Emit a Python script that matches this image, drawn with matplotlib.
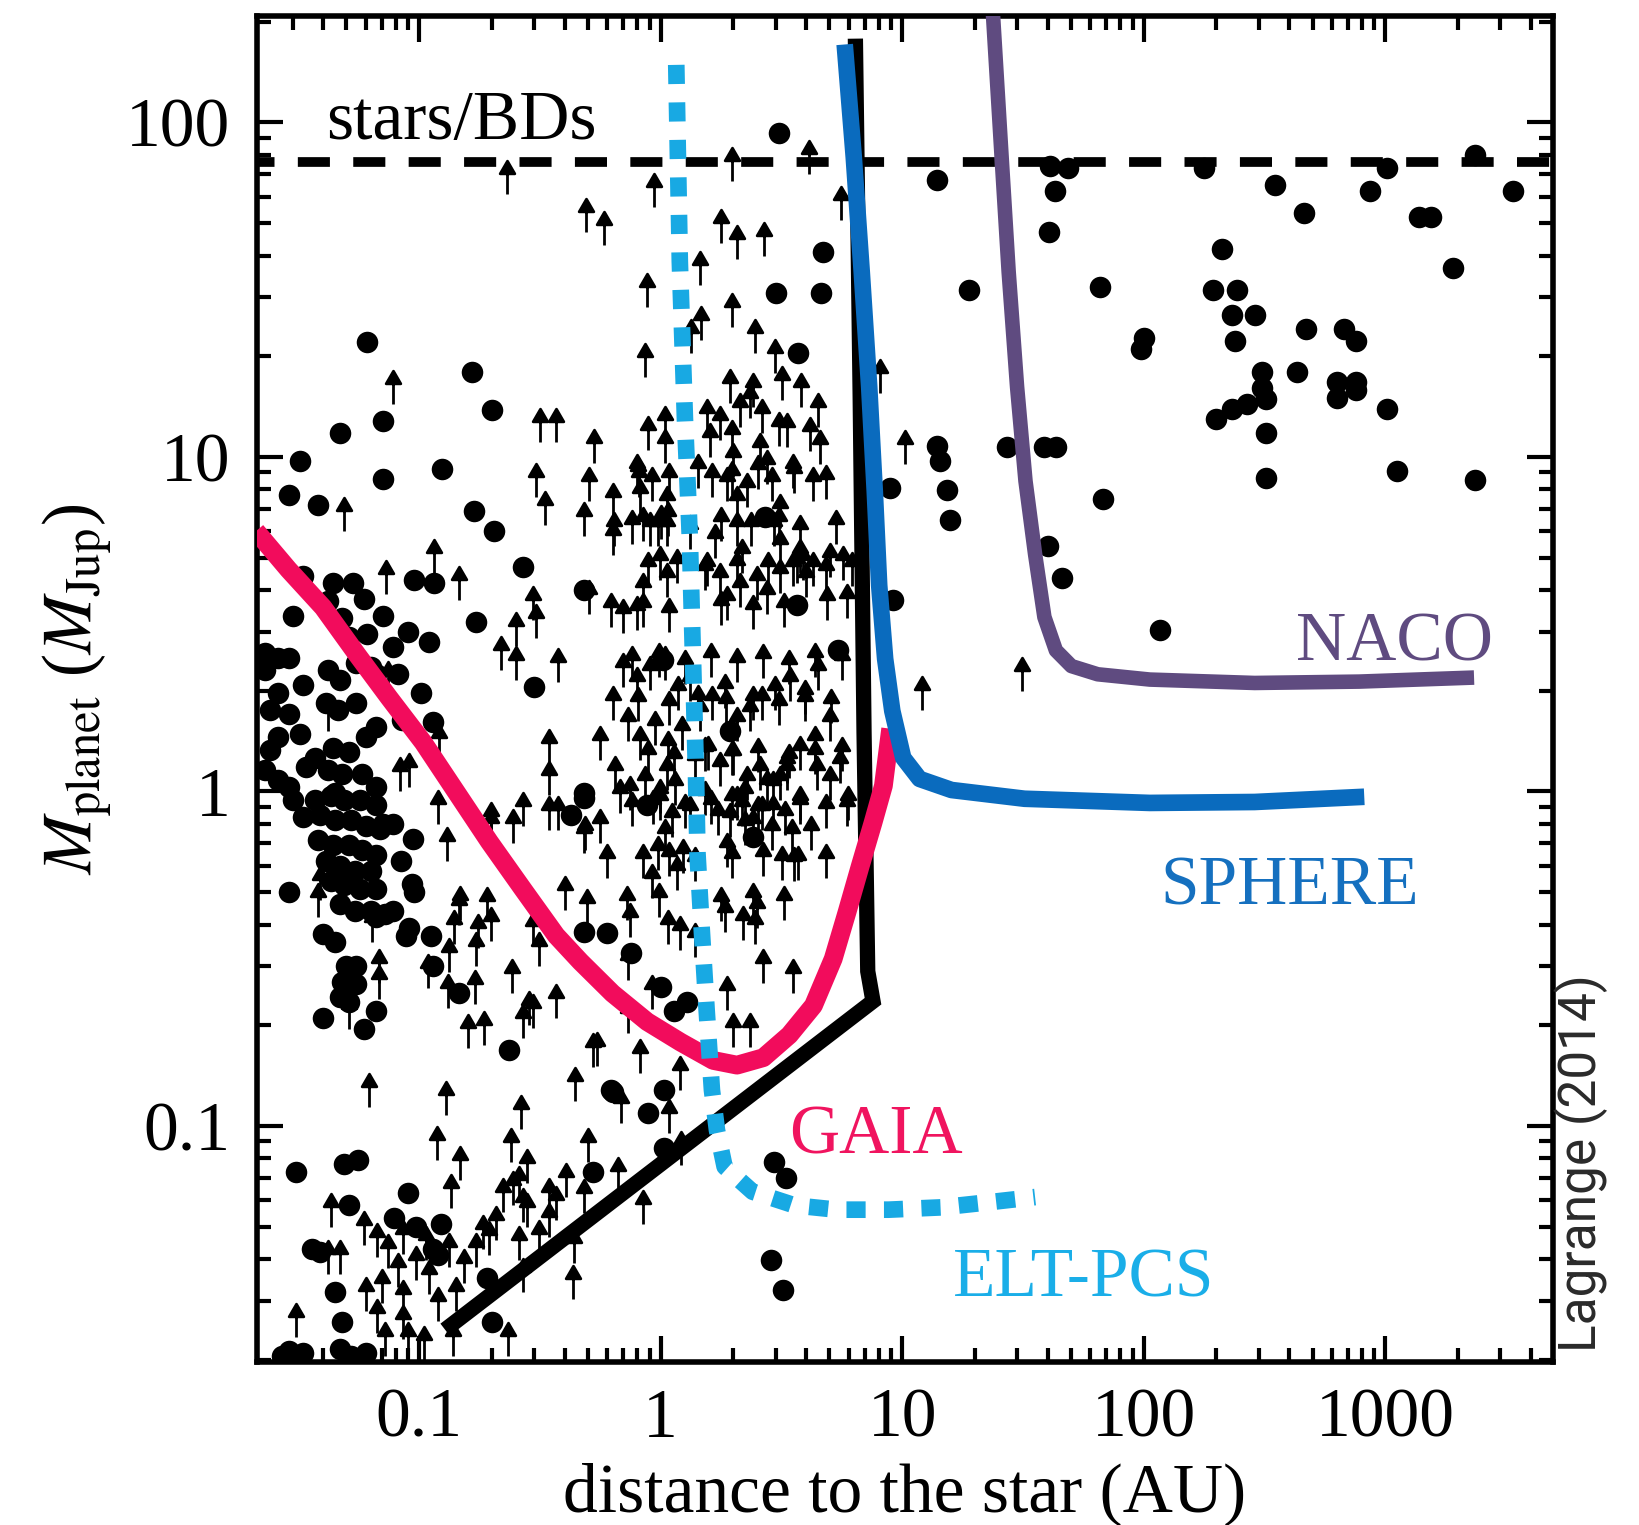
import matplotlib
matplotlib.use("Agg")
import matplotlib.pyplot as plt
from matplotlib.path import Path
from matplotlib.ticker import FixedLocator, FuncFormatter, LogLocator, NullFormatter

plt.rcParams["font.family"] = ["Liberation Serif", "DejaVu Serif"]
plt.rcParams["mathtext.fontset"] = "stix"

# ---------------------------------------------------------------------------
# Known companions: semi-major axis (AU) and mass (M_Jup)
# dots: true masses ; arrows: minimum masses (m sin i)
# ---------------------------------------------------------------------------
dot_a = [
    0.061, 0.165, 0.2, 0.047, 0.071, 0.032, 0.071, 0.124, 0.029, 0.038, 0.27, 0.168, 0.205, 0.48, 0.172,
    0.033, 0.044, 0.053, 0.059, 0.095, 0.115, 0.030, 0.042, 0.048, 0.051, 0.071, 0.061, 0.09, 0.11, 0.078,
    0.026, 0.029, 0.023, 0.082, 0.102, 0.114, 0.085, 0.042, 0.047, 0.055, 0.063, 0.066, 0.033, 0.041, 0.046,
    0.055, 0.026, 0.029, 0.032, 0.026, 0.024, 0.044, 0.051, 0.06, 0.066, 0.034, 0.037, 0.042, 0.048, 0.058,
    0.066, 0.045, 0.3, 0.48, 0.023, 0.024, 0.023, 0.026, 0.029,
    0.037, 0.043, 0.049, 0.057, 0.066, 0.039, 0.045, 0.052, 0.06, 0.069, 0.038, 0.044, 0.051, 0.058, 0.066,
    0.041, 0.047, 0.054, 0.063, 0.043, 0.049, 0.057, 0.066, 0.047, 0.054, 0.063, 0.072,
    0.030, 0.033, 0.029, 0.071, 0.078, 0.094, 0.084, 0.093, 0.095, 0.078, 0.066, 0.091, 0.112, 0.088, 0.04,
    0.045, 0.05, 0.055, 0.048, 0.055, 0.047, 0.051, 0.114, 0.146, 0.04, 0.059, 0.066, 0.236, 0.48, 0.425, 0.48,
    0.031, 0.049, 0.056, 0.051, 0.09, 0.036, 0.039, 0.045, 0.048, 0.079, 0.097, 0.123, 0.114, 0.12, 0.19,
    0.2, 0.029, 0.047, 0.525, 0.635, 0.89, 1.03, 1.03, 2.95, 3.3, 2.85, 3.2, 0.027, 0.033, 0.052, 0.06,
    2.7, 3.66, 5.4, 8.9, 9.2, 1.94, 1.02, 0.88, 0.6, 0.75, 1.0, 1.13, 1.28, 2.4, 0.62,
    3.1, 4.7, 3.0, 4.6, 3.7,
    13.9, 40.8, 48.8, 42.9, 40.4, 177, 351, 1020, 861, 459, 1376, 1550, 2357, 3375, 211, 1911, 18.9, 65.8,
    193, 243, 231, 288, 238, 100, 97, 469, 678, 757, 308, 433, 308, 321, 199, 231, 268, 632, 757, 632, 757,
    1020, 321, 13.9, 14.3, 15.4, 15.8, 27.1, 38.8, 43.3, 321, 1116, 2357, 67.8, 40, 45.9, 117,
]
dot_m = [
    22, 18, 13.8, 11.8, 12.8, 9.7, 8.6, 9.2, 7.7, 7.2, 4.7, 6.9, 6.0, 4.0, 3.2,
    4.4, 4.2, 4.2, 3.75, 4.3, 4.2, 3.35, 3.7, 3.3, 2.9, 3.35, 2.95, 3.0, 2.8, 2.7,
    2.5, 2.5, 2.6, 2.25, 1.97, 1.61, 1.63, 2.3, 2.15, 2.42, 2.35, 2.25, 2.08, 1.84, 1.75,
    1.84, 1.97, 1.71, 1.49, 1.45, 1.33, 1.35, 1.31, 1.45, 1.56, 1.18, 1.26, 1.16, 1.13, 1.13,
    1.03, 0.99, 2.05, 0.99, 2.3, 1.75, 1.16, 1.08, 1.03,
    0.94, 0.97, 0.94, 0.94, 0.91, 0.85, 0.82, 0.82, 0.79, 0.77, 0.715, 0.69, 0.69, 0.667, 0.645,
    0.62, 0.60, 0.58, 0.58, 0.54, 0.525, 0.51, 0.51, 0.46, 0.44, 0.44, 0.43,
    0.94, 0.84, 0.50, 0.80, 0.80, 0.72, 0.62, 0.53, 0.50, 0.44, 0.42, 0.39, 0.37, 0.37, 0.375,
    0.355, 0.30, 0.30, 0.27, 0.266, 0.243, 0.235, 0.30, 0.25, 0.21, 0.195, 0.22, 0.169, 0.955, 0.85, 0.38,
    0.073, 0.077, 0.079, 0.058, 0.063, 0.043, 0.042, 0.032, 0.026, 0.053, 0.05, 0.051, 0.043, 0.041, 0.035,
    0.026, 0.0213, 0.0216, 0.0727, 0.126, 0.109, 0.128, 0.086, 0.078, 0.07, 0.0397, 0.0323, 0.0205, 0.021, 0.0205, 0.021,
    6.6, 3.6, 2.64, 8.1, 3.73, 1.52, 2.47, 0.91, 0.377, 0.33, 0.26, 0.22, 0.235, 0.73, 0.128,
    93, 41, 31, 31, 20.5,
    67.3, 73.9, 72.9, 62.2, 46.9, 72.9, 64.9, 72.9, 62.2, 53.5, 52, 52, 80, 62.2, 41.9, 36.8, 31.6, 32.3,
    31.6, 31.6, 26.6, 26.6, 22.2, 22.7, 21, 24.2, 24.2, 22.2, 18, 18, 16.1, 14.9, 13, 13.9, 14.4, 16.8, 16.8, 15, 15.8,
    13.9, 11.8, 10.8, 9.7, 7.94, 6.5, 10.7, 10.7, 10.7, 8.66, 9.1, 8.53, 7.5, 5.42, 4.34, 3.03,
]

arrow_a = [
    0.23, 0.94, 0.49, 0.58, 0.88, 0.078, 0.86, 0.317, 0.37, 0.53, 0.305, 0.333, 0.48, 0.64, 0.81, 0.92,
    0.845, 1.06, 0.049, 1.04, 1.04, 1.78, 2.07, 2.68, 1.46, 1.98, 1.47, 2.46, 1.34, 1.98, 4.12, 5.6,
    2.96, 3.18, 1.94, 2.4, 3.8, 8.1,
    0.505, 0.073, 0.115, 0.146, 0.305, 0.295, 0.218, 0.252, 0.252, 0.376, 0.505, 0.345, 0.074, 0.042,
    0.121, 0.083, 0.091,
    0.13, 0.12, 0.198, 0.245, 0.345, 0.376, 0.48, 0.038, 0.039, 0.064, 0.068, 0.068, 0.14, 0.146, 0.19,
    0.172, 0.175, 0.314, 0.109, 0.132, 0.37, 0.285, 0.268, 0.296, 0.16, 0.186, 0.051, 0.525,
    0.062, 0.129, 0.264, 0.118, 0.24, 0.148, 0.136, 0.28, 0.44, 0.5, 0.665, 0.845, 0.48, 0.686, 1.08,
    0.043, 0.042, 0.047, 0.059, 0.067, 0.074, 0.086, 0.097, 0.082, 0.086, 0.086, 0.06, 0.07, 0.067,
    0.107, 0.11, 0.12, 0.142, 0.133, 0.154, 0.172, 0.195, 0.208, 0.184, 0.223, 0.245, 0.268, 0.28, 0.26,
    0.345, 0.37, 0.406, 0.345, 0.314, 0.26, 0.268, 0.438, 0.434, 0.031, 0.138, 0.233, 1.21,
    0.072, 0.09, 0.105,
    0.635, 0.635, 0.80, 0.82, 0.9, 0.975, 1.07, 1.06, 1.6, 1.76, 1.63, 1.68, 1.88, 1.99, 2.07, 2.17,
    2.07, 2.28, 1.55, 2.13, 2.35, 2.63, 3.34, 3.54, 4.28, 4.5, 4.57, 2.58, 2.76, 2.94, 3.12, 2.9, 3.12,
    0.62, 0.70, 0.80, 0.845, 1.06, 0.99,
    1.55, 1.76, 1.88, 2.13, 2.5, 2.76, 3.12, 3.54, 3.89, 4.28, 5.03, 5.7, 4.9, 5.9, 4.0, 3.78,
    0.70, 0.80, 0.905, 1.04, 1.18, 1.32, 1.46, 1.63, 1.85, 2.07, 2.35, 2.63, 2.96, 3.43, 3.95, 4.49,
    0.635, 0.73, 0.822, 0.95, 1.07, 1.23, 1.39, 1.57, 1.76, 1.99, 2.28, 2.58, 2.93, 3.34, 3.78, 4.35, 5.03,
    0.561, 0.647, 0.747, 0.862, 0.995, 1.15, 1.32, 1.53, 1.73, 1.97, 2.24, 2.52, 2.88, 3.27, 3.78, 4.2, 5.03,
    0.68, 0.56, 0.6, 0.486, 0.92, 0.975, 1.04, 1.11, 1.17, 1.24, 0.995, 1.06,
    1.88, 1.94, 2.07, 2.24, 2.41, 2.63, 2.76, 3.12, 3.34, 3.19, 3.7, 3.5, 4.44, 5.53, 5.98,
    0.495, 0.747, 1.07, 1.2, 1.39, 1.85, 2.19, 2.46, 2.5, 2.65, 3.54, 1.88, 1.99, 2.35, 0.73, 0.92,
    0.73, 0.545, 0.82, 1.2,
    10.3, 12.1, 31.2,
    # dense Doppler cluster around 1-5 AU
    0.887, 1.97, 3.08, 4.16,
    0.803, 1.083, 1.43, 1.97, 2.53, 3.58, 4.83,
    0.764, 1.0, 1.32, 1.78, 2.36, 3.08, 3.76, 5.34,
    0.887, 1.17, 1.53, 2.07, 2.79, 3.66, 4.83, 6.2,
    0.844, 1.083, 1.78, 2.4, 3.24,
    0.764, 0.98, 1.26, 1.61, 2.07, 2.65, 3.41, 4.37, 5.61,
    0.803, 1.083, 1.43, 1.87, 2.4, 3.08, 3.96, 5.08,
    0.887, 1.14, 1.53, 1.97, 2.53, 3.41, 4.37, 5.61,
    0.764, 0.932, 1.26, 1.61, 2.17, 2.93, 3.76, 4.83, 5.9,
    0.844, 1.083, 1.39, 1.97, 2.65, 3.58, 4.83,
    0.727, 0.98, 1.78, 2.4, 3.24,
    # between the two populations
    0.199, 0.268, 0.344, 0.148, 0.199, 0.296, 0.4, 0.171, 0.243, 0.133,
]
arrow_m = [
    61, 56, 47, 43, 28, 14.4, 17.3, 11.1, 11.1, 9.6, 7.6, 6.25, 5.8, 5.4, 7.6, 7.4,
    5.6, 5.4, 6.0, 9.6, 11.2, 43.6, 39, 40, 32.7, 24.4, 22.3, 20.4, 20.4, 67, 70, 51,
    17.8, 14.8, 14.5, 14.1, 14.1, 15.5,
    7.4, 3.9, 4.5, 3.73, 2.87, 3.25, 2.3, 2.72, 2.15, 2.12, 3.4, 1.22, 1.94, 1.52,
    1.26, 1.0, 1.03,
    0.62, 0.80, 0.70, 0.70, 0.766, 0.766, 0.655, 0.42, 0.473, 0.355, 0.268, 0.24, 0.35, 0.40, 0.41,
    0.30, 0.34, 0.30, 0.258, 0.225, 0.21, 0.20, 0.183, 0.196, 0.171, 0.175, 0.195, 0.15,
    0.114, 0.108, 0.098, 0.079, 0.078, 0.069, 0.057, 0.0675, 0.119, 0.078, 0.064, 0.051, 0.055, 0.102, 0.095,
    0.05, 0.036, 0.036, 0.044, 0.0405, 0.0375, 0.0415, 0.0346, 0.033, 0.0274, 0.023, 0.028, 0.0295, 0.024,
    0.0397, 0.0314, 0.0262, 0.028, 0.038, 0.034, 0.038, 0.041, 0.0455, 0.043, 0.0555, 0.058, 0.0515, 0.05, 0.06,
    0.0555, 0.0523, 0.0615, 0.0465, 0.0415, 0.0397, 0.032, 0.039, 0.0303, 0.0234, 0.0205, 0.0205, 0.0765,
    0.0205, 0.0205, 0.02,
    6.6, 5.1, 8.1, 6.8, 5.4, 5.4, 5.8, 6.5, 10, 11.2, 7.6, 5.0, 7.4, 8.7, 5.4, 4.5,
    6.5, 7.1, 11.8, 12.3, 13.1, 11.8, 10.7, 8.1, 7.4, 12.3, 9.5, 9.3, 8.3, 5.4, 4.8, 7.4, 6.15,
    3.1, 2.97, 3.03, 3.55, 3.82, 4.28,
    4.1, 3.82, 3.25, 3.55, 3.73, 3.4, 3.92, 4.1, 4.28, 4.1, 4.38, 4.28, 3.25, 3.3, 3.82, 4.5,
    2.05, 1.87, 2.01, 2.15, 1.75, 1.87, 1.52, 1.63, 1.78, 1.42, 1.52, 1.63, 1.75, 1.87, 1.71, 2.01,
    1.63, 1.42, 1.24, 1.38, 1.2, 1.33, 1.08, 1.16, 1.04, 1.12, 0.94, 1.01, 0.91, 1.01, 1.16, 1.24, 1.42,
    1.24, 1.01, 0.879, 0.942, 0.82, 0.91, 0.766, 0.85, 0.74, 0.82, 0.69, 0.766, 0.667, 0.74, 0.82, 0.667, 0.942,
    0.86, 0.70, 0.55, 0.667, 0.48, 0.582, 0.655, 0.73, 0.507, 0.57, 0.86, 1.01,
    0.594, 0.73, 0.82, 0.86, 0.70, 0.766, 0.92, 0.942, 1.06, 0.543, 0.543, 0.655, 1.01, 1.06, 0.82,
    0.405, 0.367, 0.35, 0.336, 0.32, 0.38, 0.359, 0.35, 0.39, 0.268, 0.25, 0.222, 0.172, 0.172, 0.273, 0.224,
    0.19, 0.151, 0.144, 0.128,
    9.5, 1.75, 2.0,
    10.5, 10.2, 10.8, 10.4,
    7.9, 7.6, 8.1, 7.7, 8.0, 7.8, 7.5,
    5.5, 5.7, 5.3, 5.6, 5.4, 5.6, 5.3, 5.5,
    4.1, 4.2, 4.0, 4.15, 4.1, 4.2, 4.0, 4.1,
    3.1, 3.0, 3.15, 3.05, 3.1,
    2.16, 2.2, 2.1, 2.2, 2.12, 2.18, 2.1, 2.2, 2.15,
    1.62, 1.58, 1.65, 1.6, 1.64, 1.58, 1.62, 1.6,
    1.13, 1.1, 1.15, 1.12, 1.14, 1.1, 1.13, 1.15,
    0.79, 0.8, 0.78, 0.8, 0.79, 0.77, 0.8, 0.78, 0.79,
    0.55, 0.56, 0.54, 0.55, 0.56, 0.54, 0.55,
    0.413, 0.42, 0.41, 0.42, 0.413,
    0.734, 0.789, 0.978, 0.413, 0.357, 0.345, 0.443, 0.232, 0.249, 0.288,
]

# ---------------------------------------------------------------------------
# Detection limits
# ---------------------------------------------------------------------------
bd_limit = 76  # M_Jup, stars / brown dwarfs boundary

rv_a = [0.128, 7.57, 7.2, 6.95, 6.7, 6.4]
rv_m = [0.0246, 0.236, 0.29, 1.5, 15, 178]

gaia_a = [0.0211, 0.0288, 0.040, 0.055, 0.0749, 0.104, 0.138, 0.195, 0.268, 0.369, 0.465, 0.632,
          0.879, 1.21, 1.65, 2.07, 2.66, 3.41, 4.29, 5.18, 5.90, 6.71, 7.57, 8.36, 8.96]
gaia_m = [6.0, 4.6, 3.55, 2.58, 1.91, 1.40, 1.03, 0.708, 0.512, 0.371, 0.31, 0.249,
          0.205, 0.178, 0.157, 0.152, 0.16, 0.187, 0.229, 0.316, 0.434, 0.60, 0.806, 1.04, 1.54]

sphere_a = [5.78, 6.3, 6.8, 7.3, 7.7, 8.03, 8.5, 9.1, 10.1, 11.8, 16.0, 32.1, 106, 288, 819]
sphere_m = [171, 78.9, 35.7, 16.2, 7.88, 4.13, 2.49, 1.74, 1.26, 1.09, 1.01, 0.951, 0.924, 0.93, 0.964]

naco_a = [23.5, 25.8, 27.6, 29.9, 32.4, 35.5, 38.8, 43.3, 50.2, 64.5, 106, 288, 780, 2333]
naco_m = [240, 78.9, 35.7, 16.2, 8.47, 5.12, 3.32, 2.64, 2.37, 2.24, 2.16, 2.11, 2.13, 2.19]

elt_a = [1.16, 1.20, 1.26, 1.32, 1.36, 1.40, 1.42, 1.48, 1.55, 1.63, 1.71, 1.84, 2.40, 3.58, 5.34,
         8.78, 14.5, 22.6, 35.5]
elt_m = [148.6, 38.4, 13.0, 5.75, 2.53, 1.13, 0.654, 0.384, 0.222, 0.128, 0.0972, 0.0755, 0.0636,
         0.0579, 0.0562, 0.0562, 0.0571, 0.0591, 0.0613]

x_ticks = [0.1, 1, 10, 100, 1000]
y_ticks = [0.1, 1, 10, 100]

# ---------------------------------------------------------------------------
fig = plt.figure(figsize=(16.39, 15.25), dpi=100)
ax = fig.add_axes([0.1568, 0.1069, 0.7907, 0.8826])
ax.set_xscale("log")
ax.set_yscale("log")
ax.set_xlim(0.0213, 4950)
ax.set_ylim(0.0197, 208)

# upward arrow marker, anchored at its base
arrow_marker = Path(
    [(0, 0), (0, 0.68), (-0.22, 0.62), (0, 1.0), (0.22, 0.62), (-0.22, 0.62)],
    [Path.MOVETO, Path.LINETO, Path.MOVETO, Path.LINETO, Path.LINETO, Path.CLOSEPOLY],
)

ax.plot(arrow_a, arrow_m, ls="none", marker=arrow_marker, ms=48, mfc="k", mec="k", mew=2.0, zorder=2)
ax.plot(dot_a, dot_m, ls="none", marker="o", ms=15.5, mfc="k", mec="k", mew=0, zorder=2)

ax.axhline(bd_limit, xmin=0.0, xmax=1.0, color="k", lw=7,
           ls=(1.5, (3.3, 2.4)), dash_capstyle="butt", zorder=3)

ax.plot(rv_a, rv_m, color="k", lw=11, solid_joinstyle="miter", solid_capstyle="butt", zorder=4)
ax.plot(gaia_a, gaia_m, color="#F20C5C", lw=13.5, solid_capstyle="butt", solid_joinstyle="round", zorder=5)
ax.plot(sphere_a, sphere_m, color="#0A6BBE", lw=12, solid_capstyle="butt", solid_joinstyle="round", zorder=6)
ax.plot(naco_a, naco_m, color="#5F4B80", lw=10.5, solid_capstyle="butt", solid_joinstyle="round", zorder=6)
ax.plot(elt_a, elt_m, color="#18A9E3", lw=12, ls=(0, (1.15, 1.1)), dash_capstyle="butt", zorder=7)

fs = 50
ax.text(0.149, 89.1, "stars/BDs", fontsize=fs, ha="center", va="baseline", color="k", zorder=8)
ax.text(1094, 2.46, "NACO", fontsize=fs, ha="center", va="baseline", color="#5F4B80", zorder=8)
ax.text(404, 0.46, "SPHERE", fontsize=fs, ha="center", va="baseline", color="#1570BF", zorder=8)
ax.text(7.8, 0.083, "GAIA", fontsize=fs, ha="center", va="baseline", color="#F0145F", zorder=8)
ax.text(56.6, 0.031, "ELT-PCS", fontsize=fs, ha="center", va="baseline", color="#1AAEE8", zorder=8)

# axes styling
fmt = FuncFormatter(lambda v, pos: f"{v:g}")
ax.xaxis.set_major_locator(FixedLocator(x_ticks))
ax.yaxis.set_major_locator(FixedLocator(y_ticks))
ax.xaxis.set_major_formatter(fmt)
ax.yaxis.set_major_formatter(fmt)
ax.xaxis.set_minor_locator(LogLocator(base=10, subs=range(2, 10), numticks=20))
ax.yaxis.set_minor_locator(LogLocator(base=10, subs=range(2, 10), numticks=20))
ax.xaxis.set_minor_formatter(NullFormatter())
ax.yaxis.set_minor_formatter(NullFormatter())
ax.tick_params(which="both", direction="in", top=True, right=True, width=3.0, color="k")
ax.tick_params(which="major", length=19, pad=19, labelsize=fs)
ax.tick_params(which="minor", length=10)
for sp in ax.spines.values():
    sp.set_linewidth(4.0)

ax.set_xlabel("distance to the star (AU)", fontsize=fs)
ax.xaxis.label.set_va("baseline")
ax.xaxis.set_label_coords(0.5, -0.1105)
ax.set_ylabel(r"$M_{\rm planet}$ ($M_{\rm Jup}$)", fontsize=fs)
ax.yaxis.label.set_va("center")
ax.yaxis.set_label_coords(-0.139, 0.5)

fig.text(0.965, 0.237, "Lagrange (2014)", rotation=90, ha="center", va="center",
         fontsize=37, family=["Roboto", "DejaVu Sans"], fontweight="normal", color="#2a2a2a")

fig.savefig("out.png", dpi=100)
